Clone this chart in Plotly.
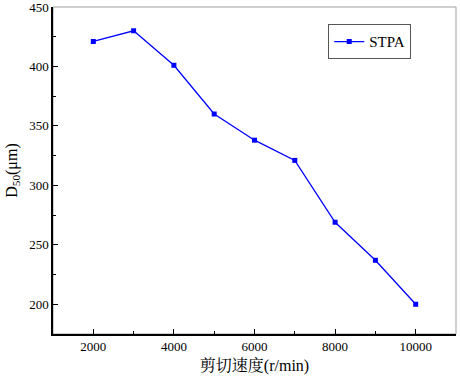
import plotly.graph_objects as go

speeds = [2000, 3000, 4000, 5000, 6000, 7000, 8000, 9000, 10000]
d50 = [421, 430, 401, 360, 338, 321, 269, 237, 200]
series_name = "STPA"
x_title = "剪切速度(r/min)"
y_title = "D<sub>50</sub>(μm)"

font_family = "Liberation Serif, Times New Roman, Noto Serif CJK SC, Noto Sans CJK SC, serif"

fig = go.Figure()
fig.add_trace(go.Scatter(
    x=speeds, y=d50, name=series_name, mode="lines+markers",
    line=dict(color="#0000FF", width=1.3),
    marker=dict(symbol="square", size=5, color="#0000FF"),
))

fig.update_layout(
    width=460, height=381,
    margin=dict(l=53, r=4, t=7, b=47, autoexpand=False),
    paper_bgcolor="white", plot_bgcolor="white",
    font=dict(family=font_family, color="black", size=12),
    showlegend=True,
    legend=dict(
        x=0.683, y=0.947, xanchor="left", yanchor="top",
        bordercolor="#555555", borderwidth=1, bgcolor="white",
        font=dict(size=15, family=font_family),
        itemwidth=30, tracegroupgap=0,
    ),
    shapes=[dict(type="rect", xref="paper", yref="paper", x0=0, y0=0, x1=1, y1=1,
                 line=dict(color="#a0a0a0", width=1), layer="below")],
)

fig.update_xaxes(
    range=[1000, 11000], tick0=2000, dtick=2000, tickformat="d",
    automargin=False, ticklabeloverflow="allow",
    showgrid=False, zeroline=False,
    showline=True, linecolor="black", linewidth=1.5,
    ticks="inside", ticklen=5, tickwidth=1.2, tickcolor="black",
    minor=dict(ticks="inside", ticklen=3, tickwidth=1, dtick=1000, tick0=1000, tickcolor="black", showgrid=False),
    tickfont=dict(size=13),
    title=dict(text=x_title, font=dict(size=16), standoff=6),
)
fig.update_yaxes(
    range=[175, 450], tick0=200, dtick=50, tickformat="d",
    automargin=False, ticklabeloverflow="allow",
    showgrid=False, zeroline=False,
    showline=True, linecolor="black", linewidth=1.5,
    ticks="inside", ticklen=5, tickwidth=1.2, tickcolor="black",
    minor=dict(ticks="inside", ticklen=3, tickwidth=1, dtick=25, tick0=175, tickcolor="black", showgrid=False),
    tickfont=dict(size=13),
    title=dict(text=y_title, font=dict(size=16), standoff=8),
)

fig.write_html(
    "out.html",
    config={"displayModeBar": False},
    post_script="document.body.style.margin='0';document.body.style.overflow='hidden';",
)
